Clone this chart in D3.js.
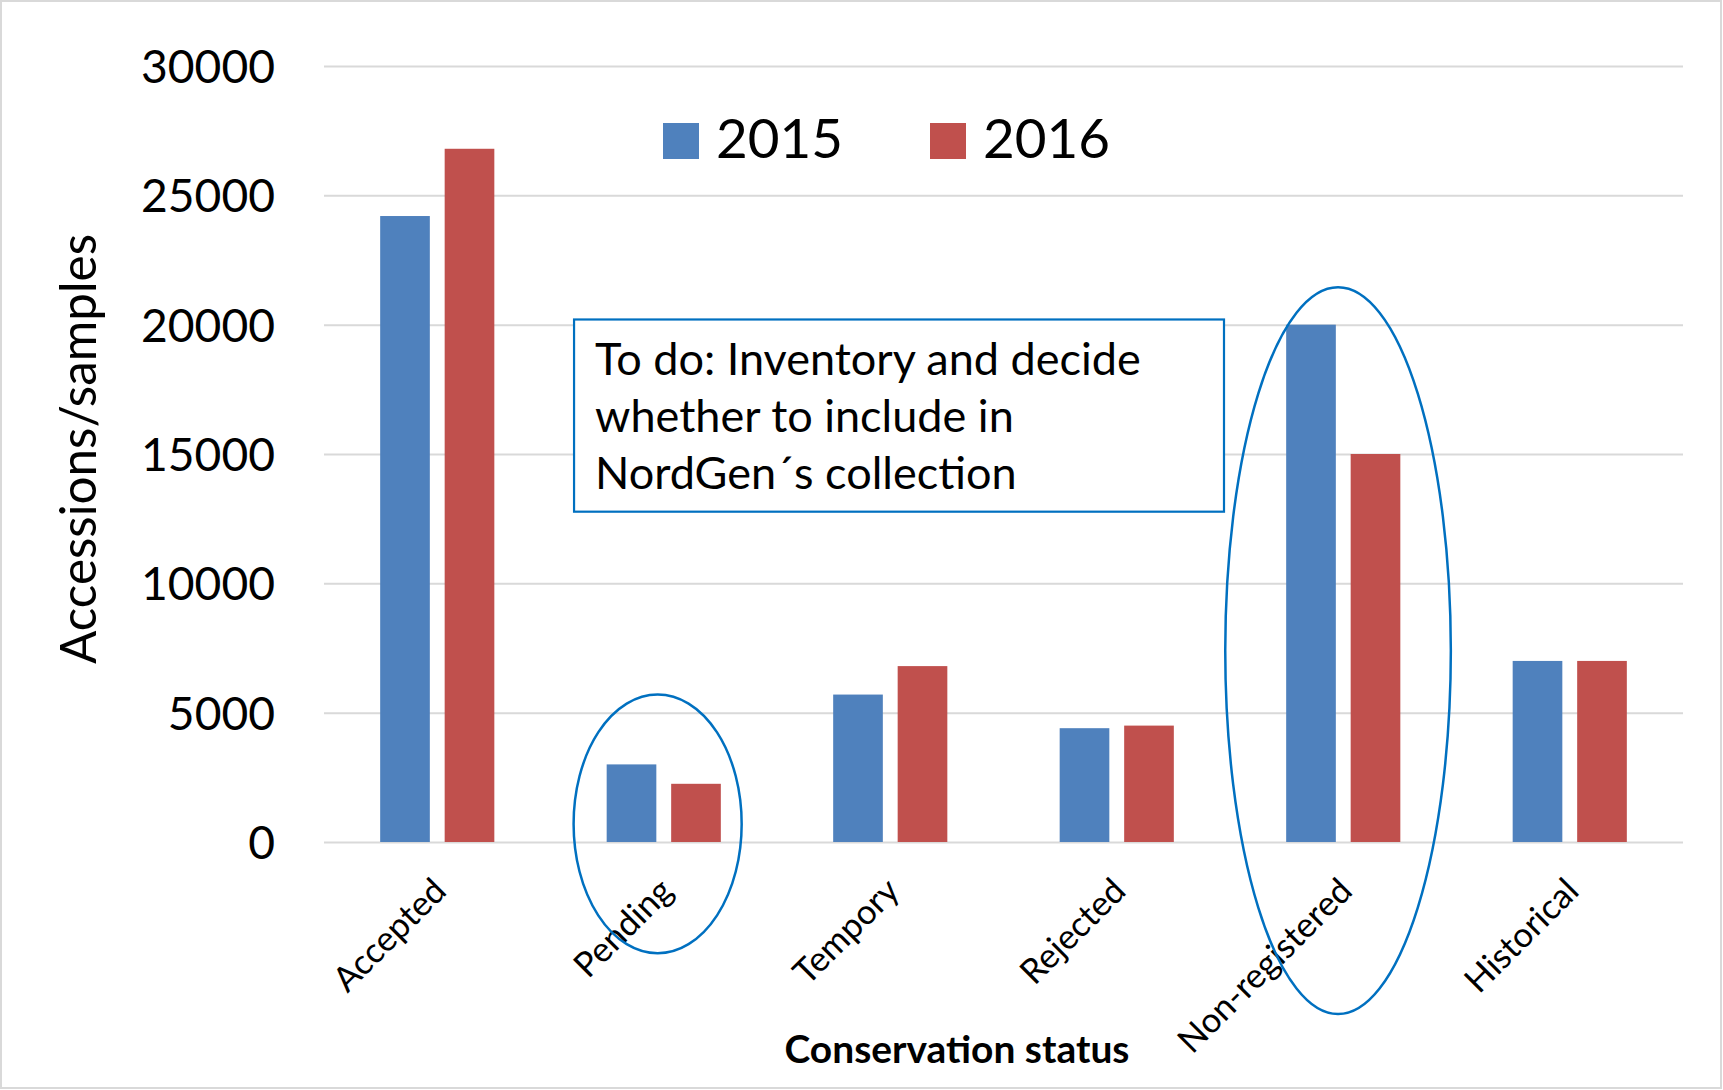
<!DOCTYPE html>
<html>
<head>
<meta charset="utf-8">
<script src="https://cdn.jsdelivr.net/npm/d3@7"></script>
<style>
  html, body { margin: 0; padding: 0; background: #fff; }
  svg { display: block; font-family: Lato, "Noto Sans", sans-serif; }
</style>
</head>
<body>
<svg id="chart" width="1723" height="1090"></svg>
<script>
// ---- data ----
const categories = ["Accepted", "Pending", "Tempory", "Rejected", "Non-registered", "Historical"];
const seriesNames = ["2015", "2016"];
const values2015 = [24200, 3000, 5700, 4400, 20000, 7000];
const values2016 = [26800, 2250, 6800, 4500, 15000, 7000];
const yTicks = [0, 5000, 10000, 15000, 20000, 25000, 30000];
const yTitle = "Accessions/samples";
const xTitle = "Conservation status";
const noteLines = ["To do: Inventory and decide", "whether to include in", "NordGen\u00B4s collection"];
// annotation ellipses: category, value span (top/bottom)
const ellipseCats = ["Pending", "Non-registered"];
const ellipseTop = [5700, 21450];
const ellipseBottom = [-4300, -6650];
// annotation box value span
const noteTop = 20200, noteBottom = 12770;

// ---- style ----
const colors = {"2015": "#4F81BD", "2016": "#C0504D"};
const accent = "#0070C0";
const grid = "#D9D9D9";

const svg = d3.select("#chart");
const W = 1723, H = 1090;
const plot = {left: 324, right: 1683, top: 66, bottom: 842};

// outer border
svg.append("rect").attr("x", 1).attr("y", 1).attr("width", W - 3).attr("height", H - 3)
  .attr("fill", "#fff").attr("stroke", grid).attr("stroke-width", 2);

const x = d3.scaleBand().domain(categories).range([plot.left, plot.right]).padding(0);
const bw = x.bandwidth();
const x1 = d3.scaleBand().domain(seriesNames).range([bw * 0.248, bw * 0.752]).paddingInner(0.23);
const y = d3.scaleLinear().domain([0, 30000]).range([plot.bottom, plot.top]);

function fit(sel, target) {
  const fs = parseFloat(sel.attr("font-size"));
  const w = sel.node().getComputedTextLength();
  sel.attr("font-size", (fs * target / w).toFixed(2));
  return fs * target / w;
}

// y axis with gridlines
const yAxis = svg.append("g").attr("transform", `translate(${plot.left},0)`)
  .call(d3.axisLeft(y).tickValues(yTicks).tickFormat(d3.format("d"))
    .tickSize(-(plot.right - plot.left)).tickPadding(49));
yAxis.select(".domain").remove();
yAxis.selectAll(".tick line").attr("stroke", grid).attr("stroke-width", 2);
yAxis.selectAll(".tick text").attr("font-family", "Lato").attr("font-size", 46)
  .attr("fill", "#000").attr("dy", "0.36em");
{
  const t = yAxis.selectAll(".tick text").filter(d => d === 30000);
  const fs = fit(t, 134);
  yAxis.selectAll(".tick text").attr("font-size", fs.toFixed(2));
}

// bars
const groups = svg.append("g").selectAll("g").data(categories).join("g")
  .attr("transform", d => `translate(${x(d)},0)`);
groups.selectAll("rect")
  .data((d, i) => [{s: "2015", v: values2015[i]}, {s: "2016", v: values2016[i]}])
  .join("rect")
  .attr("x", d => x1(d.s))
  .attr("width", x1.bandwidth())
  .attr("y", d => y(d.v))
  .attr("height", d => y(0) - y(d.v))
  .attr("fill", d => colors[d.s]);

// x axis labels
const xAxis = svg.append("g").attr("transform", `translate(0,${plot.bottom})`)
  .call(d3.axisBottom(x).tickSize(0));
xAxis.select(".domain").remove();
const xt = xAxis.selectAll(".tick text")
  .attr("font-family", "Lato").attr("font-size", 32).attr("fill", "#000")
  .attr("x", 0).attr("y", 0).attr("dy", 0)
  .attr("text-anchor", "end")
  .attr("transform", "translate(11,51) rotate(-45)");
{
  const t = xt.filter(d => d === "Non-registered");
  const fs = fit(t, 229);
  xt.attr("font-size", fs.toFixed(2));
}

// axis titles
const yt = svg.append("text").attr("font-family", "Lato").attr("font-size", 44)
  .attr("text-anchor", "middle").attr("fill", "#000")
  .attr("transform", "translate(96,449) rotate(-90)").text(yTitle);
fit(yt, 430);
const xtT = svg.append("text").attr("font-family", "Lato").attr("font-weight", "bold")
  .attr("font-size", 34).attr("text-anchor", "middle").attr("fill", "#000")
  .attr("x", 957).attr("y", 1063).text(xTitle);
fit(xtT, 345);

// legend
const legend = svg.append("g");
const legX = [663, 930];
seriesNames.forEach((s, i) => {
  legend.append("rect").attr("x", legX[i]).attr("y", 123).attr("width", 36).attr("height", 36)
    .attr("fill", colors[s]);
  const t = legend.append("text").attr("x", legX[i] + 53).attr("y", 158)
    .attr("font-family", "Lato").attr("font-size", 54).attr("fill", "#000").text(s);
  fit(t, 127);
});

// annotation box
const bx0 = x(categories[1]) + bw * 0.104, bx1 = x(categories[3]) + bw * 0.9735;
const by0 = y(noteTop), by1 = y(noteBottom);
svg.append("rect").attr("x", bx0).attr("y", by0).attr("width", bx1 - bx0).attr("height", by1 - by0)
  .attr("fill", "#fff").attr("stroke", accent).attr("stroke-width", 2.2);
let noteFs = 41;
noteLines.forEach((line, i) => {
  const t = svg.append("text").attr("x", bx0 + 21).attr("y", by0 + 56 + i * 57)
    .attr("font-family", "Lato").attr("font-size", noteFs).attr("fill", "#000").text(line);
  if (i === 0) noteFs = fit(t, 546);
  else t.attr("font-size", noteFs.toFixed(2));
});

// annotation ellipses
const rxFrac = {"Pending": 0.371, "Non-registered": 0.498};
const dxFrac = {"Pending": -0.027, "Non-registered": -0.023};
ellipseCats.forEach((c, i) => {
  const yt0 = y(ellipseTop[i]), yb0 = y(ellipseBottom[i]);
  svg.append("ellipse")
    .attr("cx", x(c) + bw * (0.5 + dxFrac[c]))
    .attr("cy", (yt0 + yb0) / 2)
    .attr("rx", bw * rxFrac[c])
    .attr("ry", (yb0 - yt0) / 2)
    .attr("fill", "none").attr("stroke", accent).attr("stroke-width", 2.5);
});
</script>
</body>
</html>
